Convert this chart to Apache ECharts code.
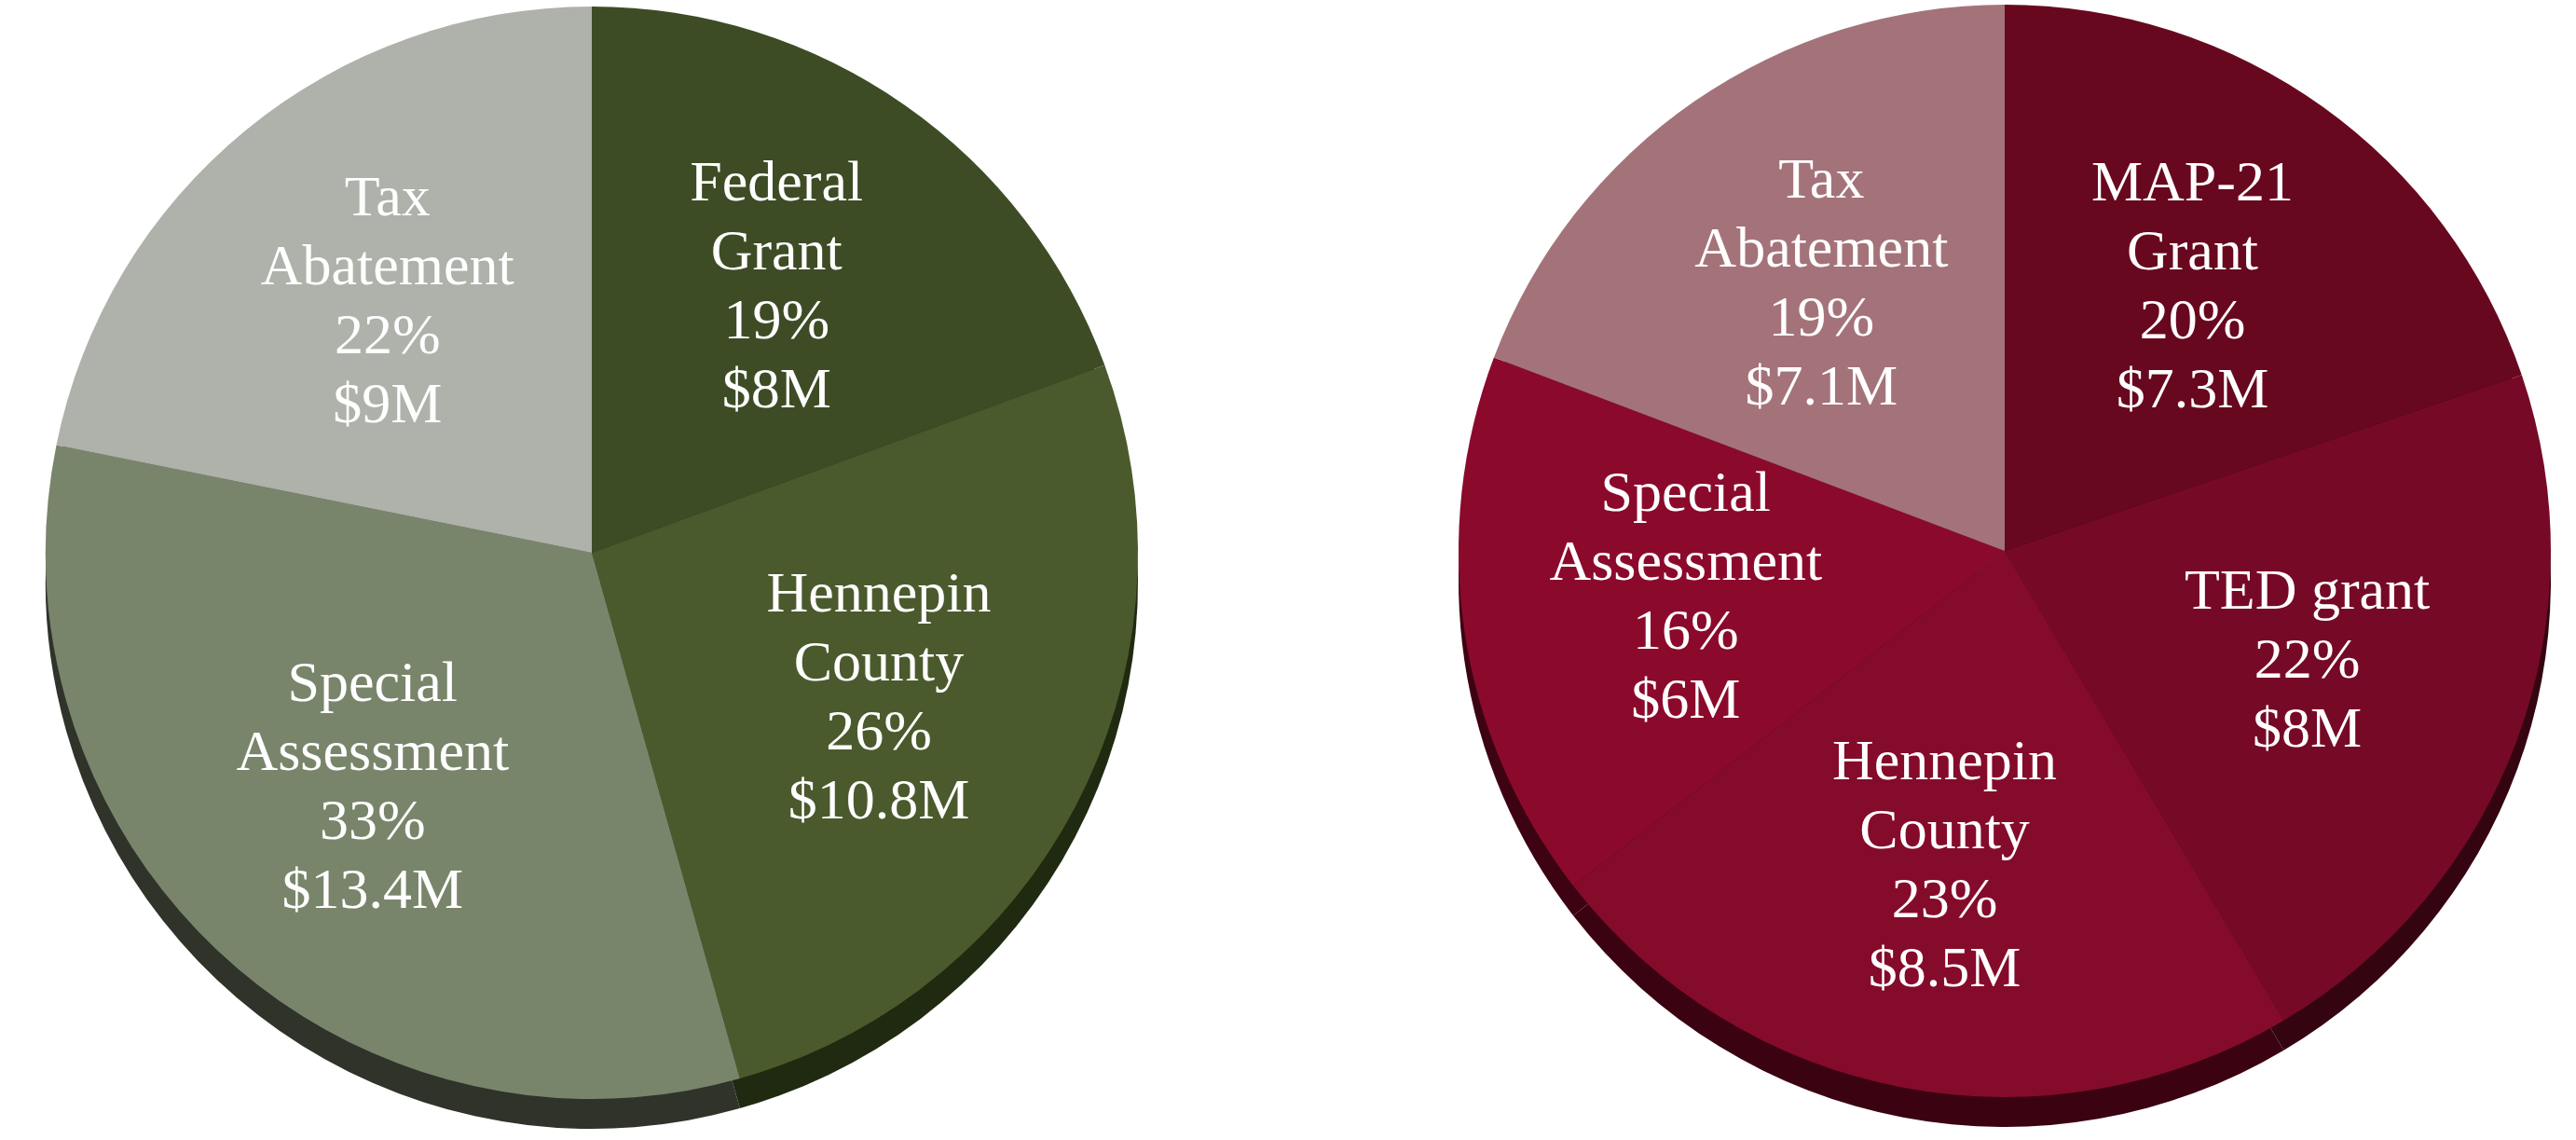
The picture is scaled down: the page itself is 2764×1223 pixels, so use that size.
<!DOCTYPE html>
<html><head><meta charset="utf-8">
<script src="https://cdn.jsdelivr.net/npm/echarts@6/dist/echarts.min.js"></script>
<style>html,body{margin:0;padding:0;background:#fff}#c{width:2764px;height:1223px}</style>
</head><body><div id="c"></div>
<script>
// Left pie (project funding A)
const leftNames = ['Federal\nGrant', 'Hennepin\nCounty', 'Special\nAssessment', 'Tax\nAbatement'];
const leftValues = [8, 10.8, 13.4, 9];
const leftColors = ['#3d4c25', '#4b5a2d', '#79856b', '#aeb2aa'];
const leftDepthColors = ['#1b230f', '#1f2a10', '#2f332a', '#4b4e47'];

// Right pie (project funding B)
const rightNames = ['MAP-21\nGrant', 'TED grant', 'Hennepin\nCounty', 'Special\nAssessment', 'Tax\nAbatement'];
const rightValues = [7.3, 8, 8.5, 6, 7.1];
const rightColors = ['#68081f', '#760a26', '#850b2b', '#8b0a2c', '#a4737a'];
const rightDepthColors = ['#2c040f', '#340511', '#3b0212', '#3e0313', '#4a2a30'];

const R = 586;
const DEPTH = 32;
const LABEL_R = Math.round(R * 1.17);

function build(names, values, colors) {
  return names.map((n, i) => ({ name: n, value: values[i], itemStyle: { color: colors[i] } }));
}

function pieSet(names, values, colors, depthColors, cx, cy) {
  return [
    {
      type: 'pie', silent: true, z: 1, radius: R, center: [cx, cy + DEPTH],
      startAngle: 90, clockwise: true, label: { show: false }, labelLine: { show: false },
      itemStyle: { borderWidth: 0 }, animation: false,
      data: build(names, values, depthColors)
    },
    {
      type: 'pie', silent: true, z: 2, radius: R, center: [cx, cy],
      startAngle: 90, clockwise: true, label: { show: false }, labelLine: { show: false },
      itemStyle: { borderWidth: 0 }, animation: false,
      data: build(names, values, colors)
    },
    {
      type: 'pie', silent: true, z: 3, radius: LABEL_R, center: [cx, cy],
      startAngle: 90, clockwise: true, animation: false,
      itemStyle: { color: 'rgba(0,0,0,0)', borderWidth: 0 },
      labelLine: { show: false },
      label: {
        show: true, position: 'inside', color: '#ffffff',
        fontFamily: 'Liberation Serif', fontSize: 62, lineHeight: 74, align: 'center',
        formatter: p => p.name + '\n' + Math.round(p.percent) + '%\n$' + p.value + 'M'
      },
      data: names.map((n, i) => ({ name: n, value: values[i] }))
    }
  ];
}

const chart = echarts.init(document.getElementById('c'), null, { renderer: 'canvas' });
chart.setOption({
  backgroundColor: '#ffffff',
  animation: false,
  series: [
    ...pieSet(leftNames, leftValues, leftColors, leftDepthColors, 635, 593),
    ...pieSet(rightNames, rightValues, rightColors, rightDepthColors, 2151, 591)
  ]
});
</script>
</body></html>
